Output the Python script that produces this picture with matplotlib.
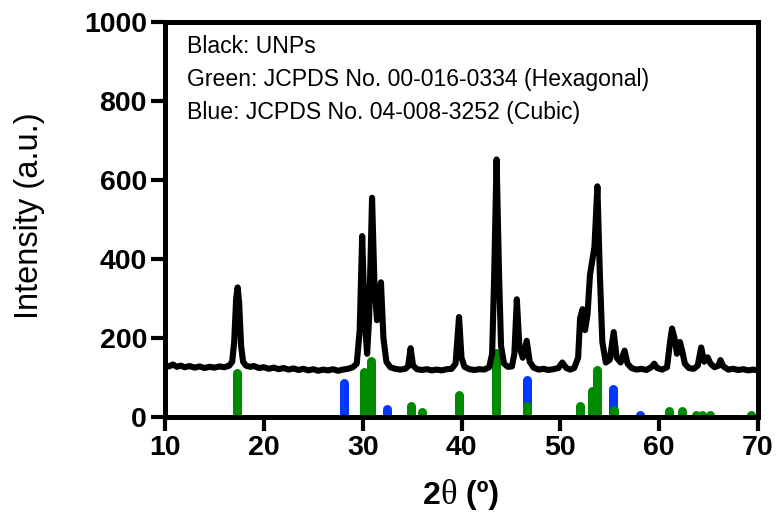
import matplotlib
matplotlib.use('Agg')
import matplotlib.pyplot as plt
from matplotlib.offsetbox import TextArea, HPacker, AnchoredOffsetbox

# measured XRD scan of the UNPs (2theta, intensity)
scan_x = [10.0, 10.4, 10.8, 11.2, 11.6, 12.0, 12.5, 13.0, 13.5, 14.0, 14.5, 15.0, 15.5, 16.0,
          16.5, 16.8, 17.0, 17.2, 17.35, 17.5, 17.7, 17.9, 18.2, 18.6, 19.0, 19.5, 20.0, 20.5,
          21.0, 21.5, 22.0, 22.5, 23.0, 23.5, 24.0, 24.5, 25.0, 25.5, 26.0, 26.5, 27.0, 27.5,
          28.0, 28.5, 29.0, 29.4, 29.7, 29.95, 30.2, 30.45, 30.65, 30.95, 31.2, 31.45, 31.85,
          32.1, 32.4, 32.8, 33.3, 33.8, 34.3, 34.6, 34.85, 35.1, 35.5, 36.0, 36.5, 37.0, 37.5,
          38.0, 38.5, 39.0, 39.4, 39.75, 40.0, 40.3, 40.8, 41.3, 41.8, 42.3, 42.8, 43.1, 43.3,
          43.55, 43.8, 44.0, 44.3, 44.7, 45.1, 45.35, 45.6, 45.85, 46.2, 46.6, 46.9, 47.3, 47.8,
          48.3, 48.8, 49.3, 49.8, 50.2, 50.6, 51.0, 51.4, 51.8, 52.0, 52.25, 52.5, 52.75, 53.0,
          53.2, 53.45, 53.75, 54.0, 54.25, 54.6, 55.0, 55.4, 55.7, 56.1, 56.5, 56.8, 57.2, 57.7,
          58.2, 58.7, 59.2, 59.5, 59.8, 60.3, 60.8, 61.1, 61.3, 61.55, 61.8, 62.1, 62.35, 62.6,
          63.0, 63.5, 63.9, 64.25, 64.55, 64.9, 65.2, 65.6, 66.0, 66.2, 66.5, 67.0, 67.5, 68.0,
          68.5, 69.0, 69.5, 70.0]
scan_y = [132, 128, 133, 127, 130, 126, 129, 125, 128, 124, 127, 125, 128, 126,
          130, 140, 190, 300, 328, 290, 180, 140, 130, 127, 129, 124, 126, 122,
          125, 121, 124, 120, 123, 119, 122, 118, 121, 117, 120, 118, 121, 117,
          120, 122, 126, 135, 220, 458, 250, 160, 250, 555, 330, 245, 341,
          200, 140, 126, 122, 120, 122, 128, 174, 130, 121, 119, 121, 118, 120,
          118, 121, 122, 135, 253, 150, 127, 121, 119, 121, 120, 126, 160, 350,
          652, 360, 180, 135, 127, 128, 160, 298, 180, 150, 193, 140, 125, 120,
          122, 119, 121, 124, 138, 124, 120, 124, 150, 250, 273, 220, 260, 360,
          391, 430, 584, 360, 190, 138, 145, 215, 150, 138, 168, 135, 124, 120,
          122, 119, 126, 135, 124, 120, 126, 190, 224, 200, 160, 190, 165, 135,
          124, 122, 130, 176, 140, 151, 135, 126, 130, 144, 128, 120, 122, 119,
          121, 118, 120, 118]

# reference patterns
hex_pos = [17.3, 30.1, 30.85, 34.9, 36.0, 39.7, 43.5, 46.6, 52.0, 53.2, 53.75, 55.4,
           61.0, 62.3, 63.7, 64.3, 65.1, 69.3]
hex_int = [112, 115, 143, 27, 12, 55, 161, 27, 27, 67, 118, 17,
           14, 14, 5, 5, 5, 5]
cub_pos = [28.1, 32.5, 46.6, 55.35, 58.1]
cub_int = [85, 19, 93, 72, 4]

legend_lines = ['Black: UNPs',
                'Green: JCPDS No. 00-016-0334 (Hexagonal)',
                'Blue: JCPDS No. 04-008-3252 (Cubic)']
x_ticks = [10, 20, 30, 40, 50, 60, 70]
y_ticks = [0, 200, 400, 600, 800, 1000]

plt.rcParams['font.family'] = ['Liberation Sans', 'DejaVu Sans']

fig = plt.figure(figsize=(7.77, 5.25), dpi=100)
ax = fig.add_axes([165 / 777, 1 - 417 / 525, 593 / 777, 395 / 525])

blue = ax.vlines(cub_pos, 0, cub_int, colors='#0038ff', linewidth=6.5, zorder=1)
blue.set_capstyle('round')
green = ax.vlines(hex_pos, 0, hex_int, colors='#008a00', linewidth=6.5, zorder=1.5)
green.set_capstyle('round')
ax.plot(scan_x, scan_y, color='black', linewidth=4.4, solid_joinstyle='round', zorder=2)

ax.set_xlim(10, 70)
ax.set_ylim(0, 1000)
ax.set_xticks(x_ticks)
ax.set_yticks(y_ticks)
ax.tick_params(direction='out', length=10, width=3, pad=3, labelsize=20.5)
for lab in ax.get_xticklabels() + ax.get_yticklabels():
    lab.set_fontweight('bold')
for s in ax.spines.values():
    s.set_linewidth(3.6)

for i, line in enumerate(legend_lines):
    ax.text(0.037, 0.939 - i * 0.0835, line, transform=ax.transAxes,
            fontsize=16.6, va='center', ha='left')

fig.text(30 / 777, 1 - 216 / 525, 'Intensity (a.u.)', rotation=90,
         fontsize=23.5, ha='center', va='center')

# x label: bold "2", serif theta, bold "(º)"
parts = [TextArea('2', textprops=dict(fontsize=23, fontweight='bold')),
         TextArea('θ', textprops=dict(fontsize=25, family='Liberation Serif')),
         TextArea(' (º)', textprops=dict(fontsize=23, fontweight='bold'))]
box = HPacker(children=parts, align='baseline', pad=0, sep=0)
anch = AnchoredOffsetbox(loc='center', child=box, frameon=False,
                         bbox_to_anchor=(461 / 777, 1 - 495 / 525),
                         bbox_transform=fig.transFigure, borderpad=0, pad=0)
fig.add_artist(anch)

fig.savefig('out.png', dpi=100)
